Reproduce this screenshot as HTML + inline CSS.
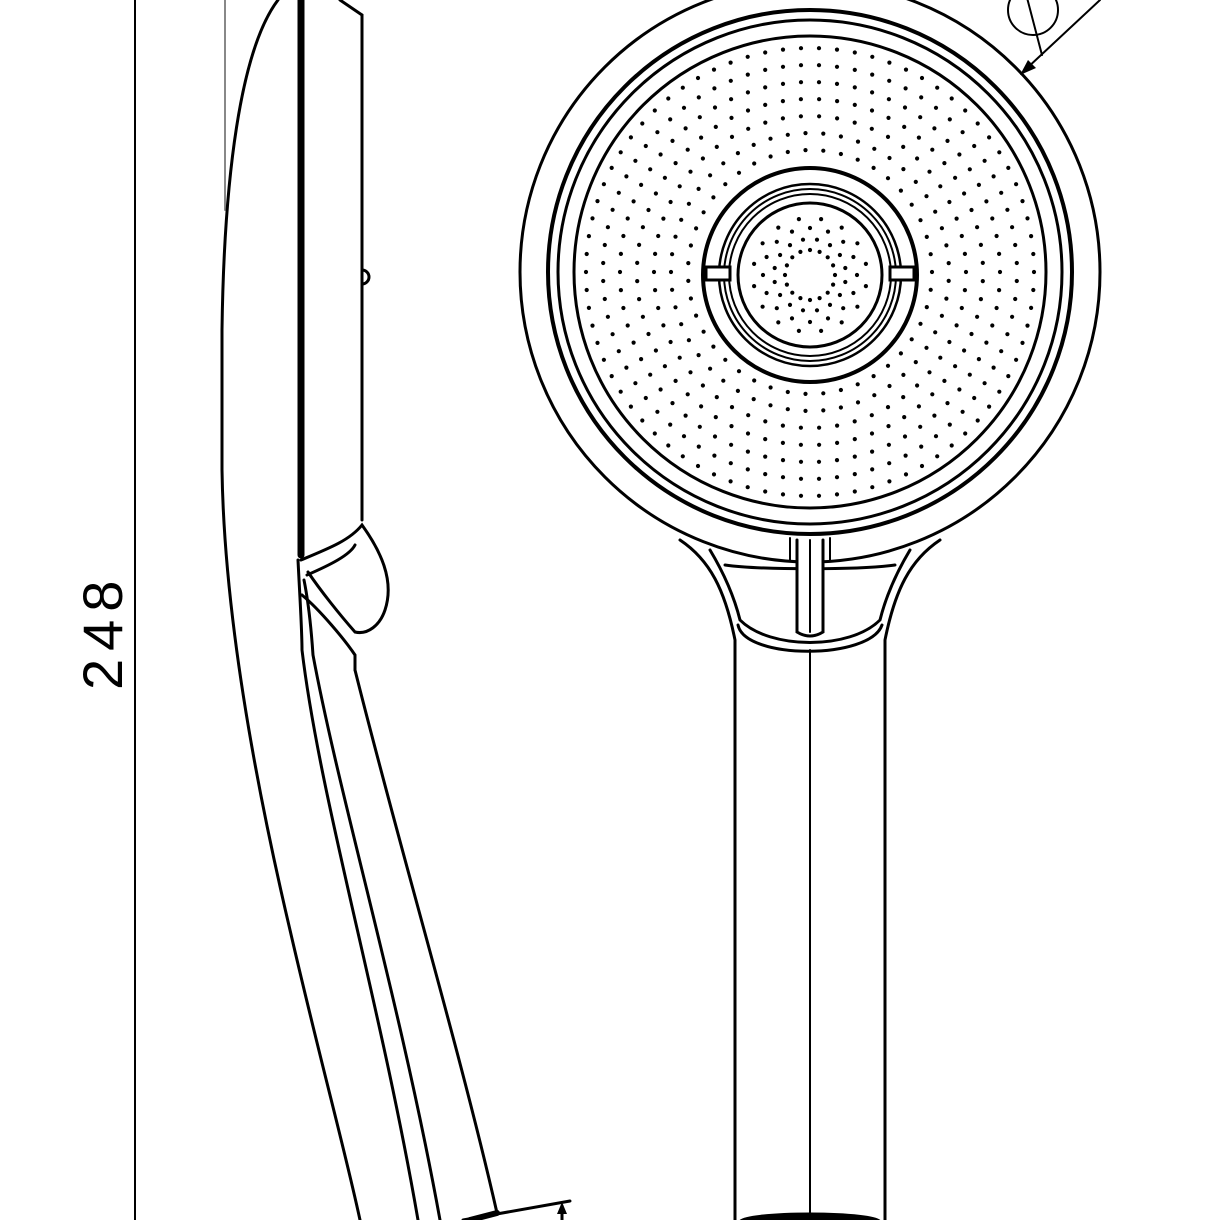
<!DOCTYPE html>
<html><head><meta charset="utf-8"><style>
html,body{margin:0;padding:0;background:#fff;}
svg{display:block;}
</style></head><body>
<svg id="s" width="1220" height="1220" viewBox="0 0 1220 1220" xmlns="http://www.w3.org/2000/svg">
<g fill="none" stroke="#000" stroke-width="3" stroke-linecap="round">
<line x1="135" y1="0" x2="135" y2="1220" stroke-width="2"/>
<line x1="225" y1="0" x2="225" y2="210" stroke="#888" stroke-width="2"/>
<path d="M278 0 C240 50 224 180 222 330 L222 470 C224 600 250 760 290 930 C320 1060 345 1150 360 1220"/>
<line x1="301" y1="0" x2="301" y2="555" stroke-width="7"/>
<line x1="362" y1="15" x2="362" y2="520"/>
<path d="M340 0 L362 15"/>
<path d="M362 270 a7 7 0 1 1 0 14"/>
<path d="M301 560 C330 548 350 540 362 525 C380 550 395 580 385 610 C380 625 368 635 355 632 C340 615 320 590 308 572"/>
<path d="M307 575 C330 565 350 555 355 545"/>
<path d="M302 595 C320 610 345 640 355 655 L355 670"/>
<path d="M298 560 C300 600 302 630 302 650 C320 800 380 1000 418 1220"/>
<path d="M304 580 C310 610 312 640 313 655 C340 800 400 1000 440 1220"/>
<path d="M355 670 C400 850 460 1050 497 1213"/>
<path d="M463 1220 L570 1201"/>
<path d="M562 1220 L562 1206" />
<polygon points="562,1202 557,1214 567,1214" fill="#000" stroke="none"/>
<path d="M470 1220 L497 1213" stroke-width="6"/>
<circle cx="810" cy="272" r="290"/>
<circle cx="810" cy="272" r="262" stroke-width="4"/>
<circle cx="810" cy="272" r="252" stroke-width="3"/>
<circle cx="810" cy="272" r="236"/>
<circle cx="810" cy="275" r="107" stroke-width="4"/>
<circle cx="810" cy="275" r="91" stroke-width="2.5"/>
<circle cx="810" cy="275" r="86" stroke-width="2"/>
<circle cx="810" cy="275" r="81" stroke-width="2"/>
<circle cx="810" cy="275" r="72" stroke-width="3"/>
<rect x="706" y="267" width="24" height="13" fill="#fff" stroke-width="3"/>
<rect x="890" y="267" width="24" height="13" fill="#fff" stroke-width="3"/>
<path d="M680 540 C710 560 725 590 735 640 L735 1220"/>
<path d="M940 540 C910 560 895 590 885 640 L885 1220"/>
<path d="M710 550 C725 575 735 600 740 620 C770 650 850 650 880 620 C885 600 895 575 910 550"/>
<path d="M738 625 C745 660 870 660 882 625"/>
<path d="M725 565 C760 570 860 570 895 565"/>
<line x1="810" y1="650" x2="810" y2="1220" stroke-width="2"/>
<path d="M797 540 L797 632 Q810 640 823 632 L823 540" fill="#fff"/>
<path d="M790 538 L790 560 M830 538 L830 560" stroke-width="2"/>
<line x1="810" y1="540" x2="810" y2="632" stroke-width="2"/>
<ellipse cx="810" cy="1222" rx="70" ry="8" fill="#000"/>
<circle cx="1033" cy="10" r="25" stroke-width="2"/>
<line x1="1025" y1="-10" x2="1042" y2="55" stroke-width="2"/>
<line x1="1100" y1="0" x2="1025" y2="70" stroke-width="2"/>
<polygon points="1020,75 1028,60 1036,68" fill="#000" stroke="none"/>
</g>
<g id="dots" fill="#000"></g>
<text transform="translate(122,690) rotate(-90)" font-family="'Liberation Sans',sans-serif" font-size="56" fill="#000" letter-spacing="8">248</text>
</svg>
<script>
(function(){
var g=document.getElementById('dots'),h='';
function d(x,y){h+='<circle cx="'+x.toFixed(1)+'" cy="'+y.toFixed(1)+'" r="2.1"/>';}
var rs=[25,36,47,57];
rs.forEach(function(r,i){var n=16,o=i%2?Math.PI/16:0;for(var k=0;k<n;k++){var a=o+k*2*Math.PI/n;d(810+r*Math.cos(a),275+r*Math.sin(a));}});
for(var r=122,i=0;r<=225;r+=17,i++){var n=Math.round(2*Math.PI*r/18),o=i%2?Math.PI/n:0;for(var k=0;k<n;k++){var a=o+k*2*Math.PI/n;d(810+r*Math.cos(a),272+r*Math.sin(a));}}
g.innerHTML=h;
})();
</script>
</body></html>
